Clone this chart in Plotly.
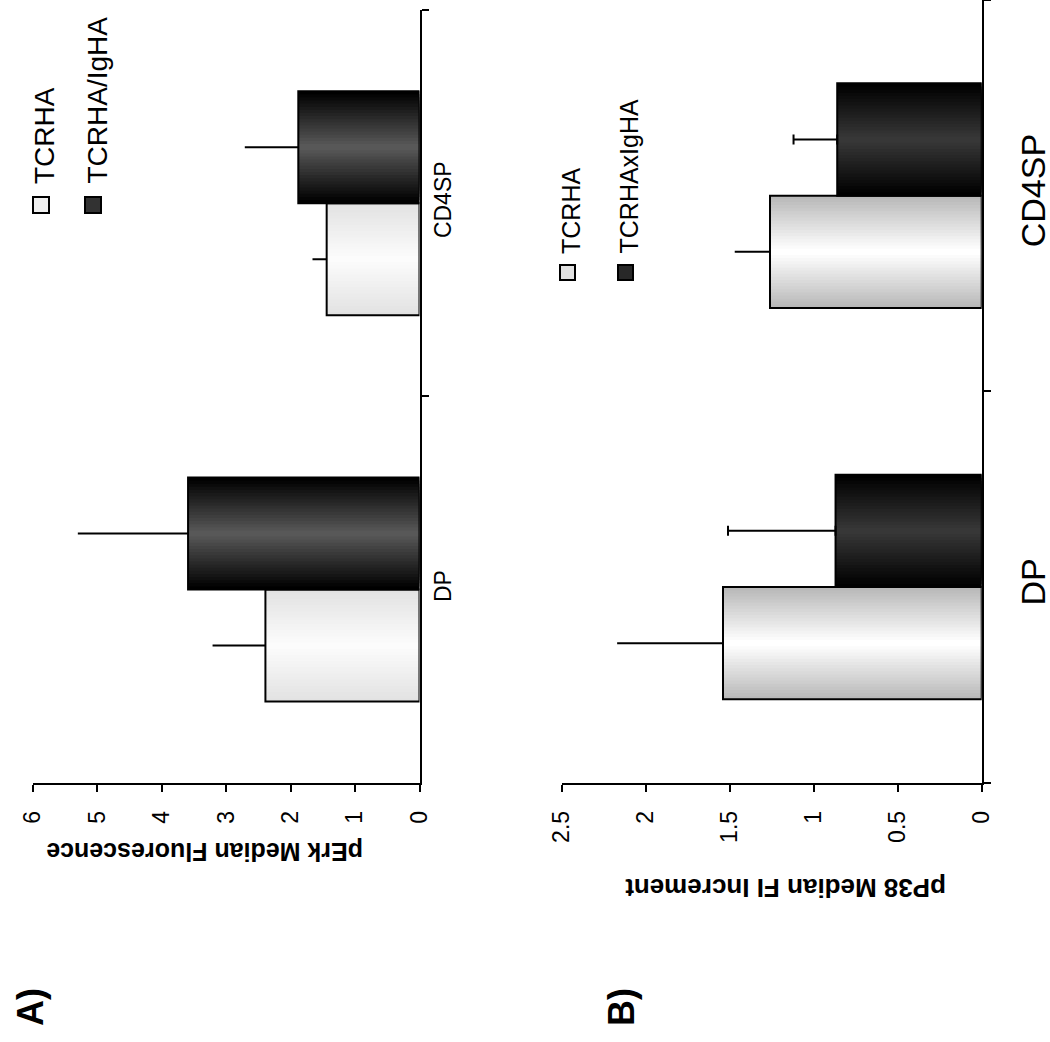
import plotly.graph_objects as go

W, H = 1050, 1042

categories = ["DP", "CD4SP"]

# Panel A: pErk median fluorescence
erk_tcrha = [2.39, 1.44]
erk_tcrha_err = [0.82, 0.22]
erk_igha = [3.59, 1.88]
erk_igha_err = [1.71, 0.83]
erk_ticks = [0, 1, 2, 3, 4, 5, 6]

# Panel B: pP38 median FI increment
p38_tcrha = [1.54, 1.26]
p38_tcrha_err = [0.63, 0.21]
p38_igha = [0.87, 0.86]
p38_igha_err = [0.64, 0.26]
p38_ticks = [0, 0.5, 1, 1.5, 2, 2.5]

FONT = "Liberation Sans, Arial, sans-serif"


def px(x):
    return x / W


def py(y):
    return 1 - y / H


def lerp(a, b, t):
    return tuple(int(round(a[i] + (b[i] - a[i]) * t)) for i in range(3))


def shaded_bars(fig, values, errors, xa, ya, base_off, width, edge, center, cap, layers=18):
    # cylinder-style shading: nested bars getting narrower towards the centre line
    for k in range(layers):
        w = width * (1 - k / layers)
        off = base_off + (width - w) / 2
        col = lerp(edge, center, k / (layers - 1))
        fig.add_trace(go.Bar(
            y=categories, x=values, orientation="h",
            width=w, offset=off,
            marker=dict(color="rgb(%d,%d,%d)" % col, line=dict(width=0)),
            xaxis=xa, yaxis=ya, hoverinfo="skip", showlegend=False,
        ))
    # outline + one-sided error bar
    fig.add_trace(go.Bar(
        y=categories, x=values, orientation="h",
        width=width, offset=base_off,
        marker=dict(color="rgba(0,0,0,0)", line=dict(color="black", width=2)),
        error_x=dict(type="data", array=errors, arrayminus=[0] * len(errors),
                     symmetric=False, color="black", thickness=2, width=cap),
        xaxis=xa, yaxis=ya, hoverinfo="skip", showlegend=False,
    ))


fig = go.Figure()

BW_A = 0.29
BW_B = 0.287
shaded_bars(fig, erk_tcrha, erk_tcrha_err, "x", "y", -BW_A, BW_A,
            (226, 226, 226), (252, 252, 252), 0)
shaded_bars(fig, erk_igha, erk_igha_err, "x", "y", 0, BW_A,
            (0, 0, 0), (88, 88, 88), 0)
shaded_bars(fig, p38_tcrha, p38_tcrha_err, "x2", "y2", -BW_B, BW_B,
            (185, 185, 185), (255, 255, 255), 0)
shaded_bars(fig, p38_igha, p38_igha_err, "x2", "y2", 0, BW_B,
            (0, 0, 0), (55, 55, 55), 5)

value_axis = dict(
    ticks="outside", ticklen=7, tickwidth=2, tickcolor="black",
    showline=True, linewidth=2, linecolor="black",
    tickangle=-90, showgrid=False, zeroline=False, fixedrange=True,
    tickfont=dict(family=FONT, size=23, color="black"),
    ticklabelstandoff=10, automargin=False,
)
cat_axis = dict(
    type="category", categoryorder="array", categoryarray=categories,
    range=[-0.5, 1.5], side="right",
    ticks="outside", ticklen=7, tickwidth=2, tickcolor="black", tickson="boundaries",
    showline=True, linewidth=2, linecolor="black",
    tickangle=-90, showgrid=False, zeroline=False, fixedrange=True,
    automargin=False,
)

fig.update_layout(
    width=W, height=H,
    margin=dict(l=0, r=0, t=0, b=0, autoexpand=False),
    paper_bgcolor="white", plot_bgcolor="white",
    barmode="overlay",
    font=dict(family=FONT, color="black"),
    xaxis=dict(value_axis, domain=[px(32.7), px(419.5)], range=[6, 0], anchor="y",
               tickvals=erk_ticks, ticktext=[str(v) for v in erk_ticks]),
    yaxis=dict(cat_axis, domain=[py(782.7), py(10)], anchor="x",
               tickfont=dict(family=FONT, size=23, color="black"), ticklabelstandoff=2),
    xaxis2=dict(value_axis, domain=[px(561.7), px(981.7)], range=[2.5, 0], anchor="y2",
                tickvals=p38_ticks, ticktext=["%g" % v for v in p38_ticks]),
    yaxis2=dict(cat_axis, domain=[py(782.7), 1.0], anchor="x2",
                tickfont=dict(family=FONT, size=34, color="black"), ticklabelstandoff=20),
)

annotations = [
    # axis titles (upside down)
    dict(text="<b>pErk Median Fluorescence</b>", x=px(205), y=py(852), textangle=180,
         font=dict(size=25)),
    dict(text="<b>pP38 Median FI Increment</b>", x=px(786), y=py(888), textangle=180,
         font=dict(size=26)),
    # panel letters
    dict(text="<b>A)</b>", x=px(30), y=py(1007), textangle=-90, font=dict(size=36)),
    dict(text="<b>B)</b>", x=px(621), y=py(1007), textangle=-90, font=dict(size=36)),
    # legend entries
    dict(text="TCRHA", x=px(44.5), y=py(186), yanchor="bottom", textangle=-90,
         font=dict(size=28)),
    dict(text="TCRHA/IgHA", x=px(97), y=py(186), yanchor="bottom", textangle=-90,
         font=dict(size=28)),
    dict(text="TCRHA", x=px(571), y=py(256), yanchor="bottom", textangle=-90,
         font=dict(size=25)),
    dict(text="TCRHAxIgHA", x=px(629), y=py(256), yanchor="bottom", textangle=-90,
         font=dict(size=25)),
]
for a in annotations:
    a.setdefault("xref", "paper")
    a.setdefault("yref", "paper")
    a.setdefault("showarrow", False)
    a.setdefault("xanchor", "center")
    a.setdefault("yanchor", "middle")
    a["font"] = dict(family=FONT, color="black", **a["font"])
fig.update_layout(annotations=annotations)

# legend swatches
swatches = [
    (33, 197, 49, 213, "rgb(240,240,240)"),
    (85, 197, 101, 213, "rgb(50,50,50)"),
    (560, 265, 575, 280, "rgb(225,225,225)"),
    (618, 265, 633, 280, "rgb(40,40,40)"),
]
for x0, y0, x1, y1, col in swatches:
    fig.add_shape(type="rect", xref="paper", yref="paper",
                  x0=px(x0), x1=px(x1), y0=py(y1), y1=py(y0),
                  fillcolor=col, line=dict(color="black", width=2))

fig.write_html("out.html")
